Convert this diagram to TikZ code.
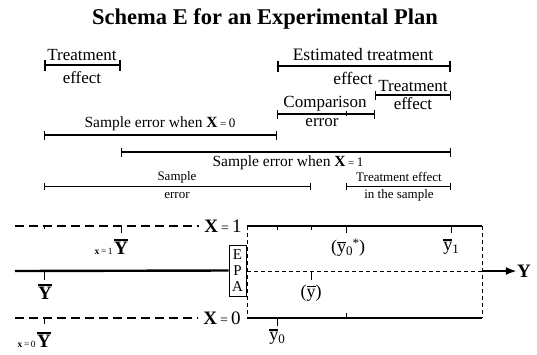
\documentclass[tikz,border=0pt]{standalone}
\usepackage{fontspec}
\setmainfont{Liberation Serif}
\usetikzlibrary{arrows.meta}
\newcommand{\ovbar}[1]{\leavevmode\vbox{\hrule height 1.3pt\kern 1.6pt\hbox{#1}}}
\begin{document}
\begin{tikzpicture}[x=1pt,y=-1pt,
  lbl/.style={font=\fontsize{17}{18}\selectfont, inner sep=0pt},
  mlbl/.style={font=\fontsize{15.5}{16}\selectfont, inner sep=0pt},
  sml/.style={font=\fontsize{13}{14}\selectfont, inner sep=0pt},
  bigY/.style={font=\bfseries\fontsize{19}{19}\selectfont, inner sep=0pt},
  sub/.style={font=\fontsize{9.5}{9.5}\selectfont, inner sep=0pt},
  ybar/.style={font=\fontsize{18}{18}\selectfont, inner sep=0pt},
  heavybar/.style={line width=1.8pt, {Bar[width=11pt]}-{Bar[width=11pt]}},
  midbar/.style={line width=1.1pt, {Bar[width=9pt]}-{Bar[width=9pt]}},
  thinbar/.style={line width=0.8pt, {Bar[width=7pt]}-{Bar[width=7pt]}},
  mainline/.style={line width=2.4pt},
  bigdash/.style={line width=2.4pt, dash pattern=on 9pt off 5pt},
  thindash/.style={line width=0.7pt, dash pattern=on 4pt off 3pt},
  tick/.style={line width=1pt}
]
\useasboundingbox (0,0) rectangle (537,354);

% title
\node[font=\bfseries\fontsize{22.5}{24}\selectfont, inner sep=0pt] (title) at (265,19) {Schema E for an Experimental Plan};

% ---- spans ----
\coordinate (a0) at (44,65);  \coordinate (a1) at (121,65);
\draw[heavybar] (a0) -- (a1);
\node[lbl] (ta1) at (82,55) {Treatment};
\node[lbl] (ta2) at (82,78) {effect};

\coordinate (b0) at (277,66); \coordinate (b1) at (451,66);
\draw[heavybar] (b0) -- (b1);
\node[lbl, font=\fontsize{17.5}{18}\selectfont] (tb1) at (363,55) {Estimated treatment};
\node[lbl, font=\fontsize{17.5}{18}\selectfont] (tb2) at (353,78) {effect};

\coordinate (c0) at (375,95); \coordinate (c1) at (451,95);
\draw[midbar] (c0) -- (c1);
\node[lbl] (tc1) at (413,86) {Treatment};
\node[lbl] (tc2) at (413,104) {effect};

\coordinate (d0) at (277,114); \coordinate (d1) at (375,114);
\coordinate (dm) at (346,114);
\draw[midbar] (d0) -- (d1);
\draw[line width=0.8pt] ([yshift=-2pt]dm) -- ([yshift=3pt]dm);
\node[lbl] (td1) at (325,104) {Comparison};
\node[lbl] (td2) at (322,123) {error};

\coordinate (e0) at (44,135); \coordinate (e1) at (277,135);
\draw[midbar] (e0) -- (e1);
\node[mlbl] (te1) at (160,124) {Sample error when \textbf{X}\,{\fontsize{11}{11}\selectfont=}\,{\fontsize{13}{13}\selectfont 0}};

\coordinate (f0) at (121,152); \coordinate (f1) at (451,152);
\draw[midbar] (f0) -- (f1);
\node[mlbl] (tf1) at (288,163) {Sample error when \textbf{X}\,{\fontsize{11}{11}\selectfont=}\,{\fontsize{13}{13}\selectfont 1}};

\coordinate (g0) at (44,186); \coordinate (g1) at (311,186);
\draw[thinbar] (g0) -- (g1);
\node[sml] (tg1) at (177,177) {Sample};
\node[sml] (tg2) at (177,195) {error};

\coordinate (h0) at (346,186); \coordinate (h1) at (451,186);
\draw[thinbar] (h0) -- (h1);
\node[sml] (th1) at (399,177) {Treatment effect};
\node[sml] (th2) at (399,195) {in the sample};

% ---- lower diagram ----
\node[lbl, font=\fontsize{19}{19}\selectfont] (xone) at (223,226) {\textbf{X}\,{\fontsize{14}{14}\selectfont=}\,1};
\node[lbl, font=\fontsize{19}{19}\selectfont] (xzero) at (222,318) {\textbf{X}\,{\fontsize{14}{14}\selectfont=}\,0};

\coordinate (t0) at (15,226); \coordinate (t1) at (247,226); \coordinate (t2) at (482,226);
\coordinate (m0) at (15,271); \coordinate (m1) at (247,271); \coordinate (m2) at (482,271);
\coordinate (u0) at (15,318); \coordinate (u1) at (247,318); \coordinate (u2) at (482,318);

\draw[bigdash] (t0) -- ([xshift=-5pt]xone.west);
\draw[bigdash] (u0) -- ([xshift=-5pt]xzero.west);
\draw[mainline] (t1) -- (t2);
\draw[mainline] (u1) -- (u2);

\node[draw, line width=0.7pt, inner sep=0pt, minimum width=17pt, minimum height=51pt,
      align=center, font=\fontsize{15}{16}\selectfont] (epa) at (237.5,270.5) {E\\P\\A};
\draw[mainline] (m0) -- (epa.west);
\draw[thindash] (m1) -- (m2);
\draw[thindash] (t1) -- (u1);
\draw[thindash] (t2) -- (u2);

\node[bigY] (yout) at (524,271) {Y};
\draw[line width=2.4pt, -{Latex[length=11pt,width=8pt]}] (m2) -- (yout.west);

% ticks
\draw[tick] (44,226) -- ++(0,3);
\draw[tick] (121,226) -- ++(0,7);
\draw[tick] (277,226) -- ++(0,4);
\draw[tick] (311,226) -- ++(0,4);
\draw[tick] (346,226) -- ++(0,7);
\draw[tick] (451,226) -- ++(0,7);
\draw[tick] (44,271) -- ++(0,9);
\draw[tick] (311,271) -- ++(0,9);
\draw[tick] (44,318) -- ++(0,6);
\draw[tick] (277,318) -- ++(0,8);
\draw[tick] (346,318) -- ++(0,-5);

% labels
\node[bigY] (yb1) at (121,247) {\ovbar{Y}};
\node[sub, anchor=base east] (sx1) at ([xshift=-1pt]yb1.base west) {\textbf{x}\,=\,1};
\node[bigY] (yb) at (45,292) {\ovbar{Y}};
\node[bigY] (yb0) at (44,340) {\ovbar{Y}};
\node[sub, anchor=base east] (sx0) at ([xshift=-1pt]yb0.base west) {\textbf{x}\,=\,0};

\node[ybar] (ys0) at (277,337) {\ovbar{y}\raisebox{-3pt}{\fontsize{13}{13}\selectfont 0}};
\node[ybar] (ys0s) at (348,248) {(\ovbar{y}\raisebox{-3pt}{\fontsize{13}{13}\selectfont 0}\raisebox{5pt}{\fontsize{13}{13}\selectfont *})};
\node[ybar] (ys1) at (451,247) {\ovbar{y}\raisebox{-3pt}{\fontsize{13}{13}\selectfont 1}};
\node[ybar] (ysb) at (311,293) {(\ovbar{y})};
\end{tikzpicture}
\end{document}
